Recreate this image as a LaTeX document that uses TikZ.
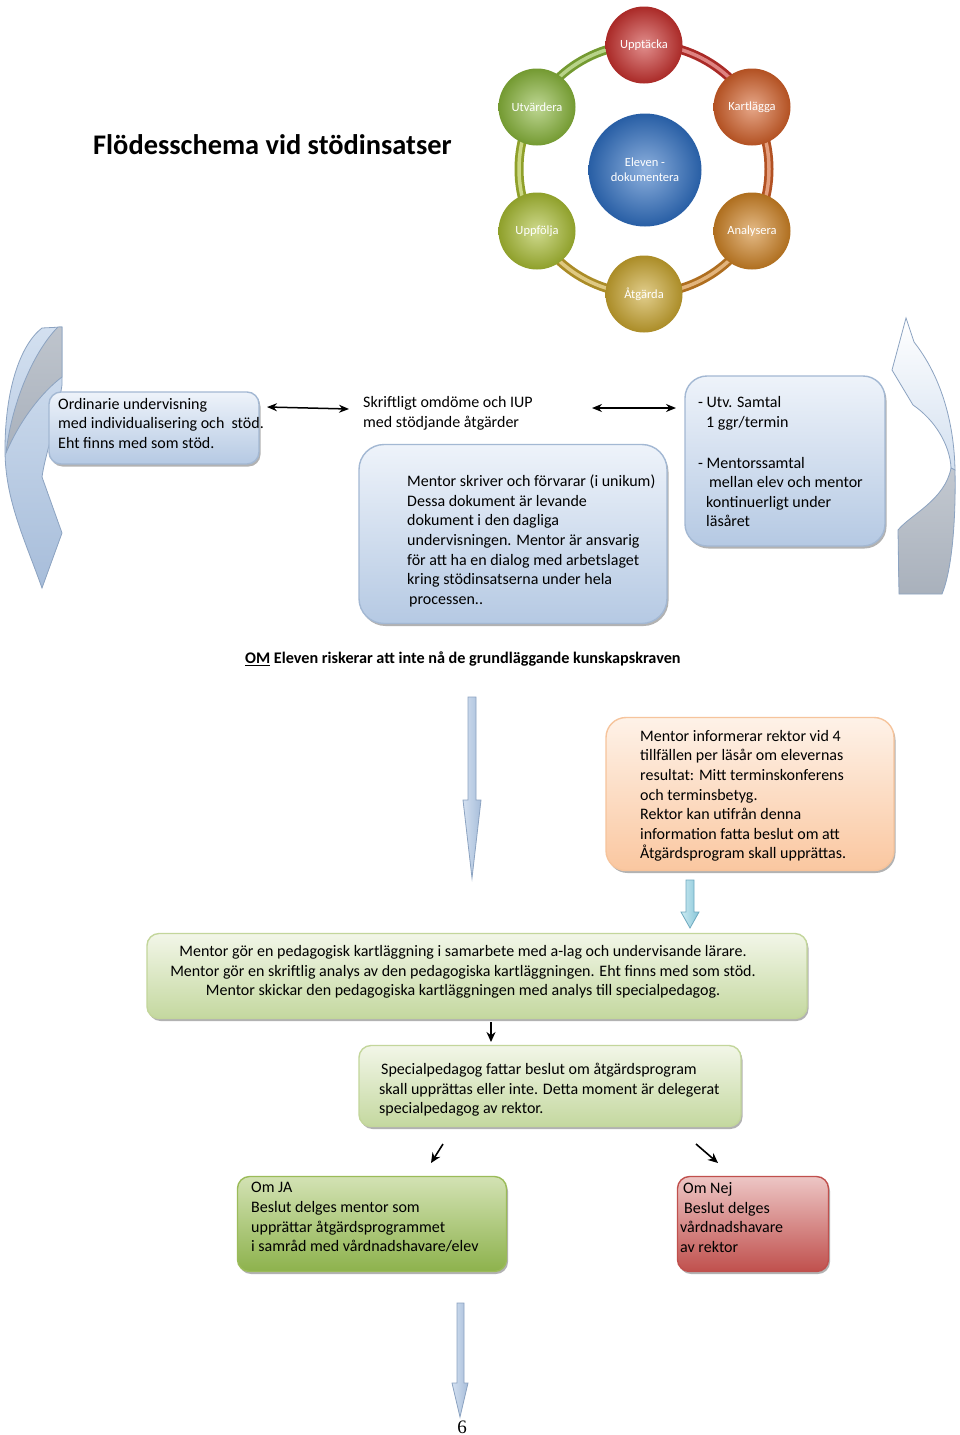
\documentclass[tikz,border=0pt]{standalone}
\usepackage{fontspec}
\setmainfont{Carlito}
\newfontfamily\pagenumfont{Liberation Serif}
\usetikzlibrary{shadows,arrows.meta}
\definecolor{btop}{HTML}{EEF3FA}
\definecolor{bbot}{HTML}{B5C9E3}
\definecolor{bbord}{HTML}{A3B8D3}
\definecolor{ptop}{HTML}{FEF2E8}
\definecolor{pbot}{HTML}{FAC7A0}
\definecolor{pbord}{HTML}{F6C49C}
\definecolor{gtop}{HTML}{F2F6E8}
\definecolor{gbot}{HTML}{C4D89F}
\definecolor{gbord}{HTML}{C3D69B}
\definecolor{dgtop}{HTML}{D3E2B4}
\definecolor{dgbot}{HTML}{8DB24C}
\definecolor{dgbord}{HTML}{9BBB59}
\definecolor{rtop}{HTML}{EDC6C5}
\definecolor{rbot}{HTML}{C0504D}
\definecolor{rbord}{HTML}{C0504D}
\definecolor{arrlight}{HTML}{D3E0F0}
\definecolor{arrdark}{HTML}{A7BDDA}
\definecolor{arrbord}{HTML}{8CA3C1}
\definecolor{arrgray}{HTML}{A9B1BC}
\definecolor{cyanl}{HTML}{CDEBF2}
\definecolor{cyand}{HTML}{86C5D8}
\definecolor{cyanb}{HTML}{6FA9BF}
\definecolor{cRed}{HTML}{C8312E}
\definecolor{cOrR}{HTML}{D25F28}
\definecolor{cOr}{HTML}{CE8224}
\definecolor{cGold}{HTML}{C9A52E}
\definecolor{cYG}{HTML}{A8BC32}
\definecolor{cGr}{HTML}{88B53A}
\definecolor{cBlue}{HTML}{2F6FC2}
\tikzset{
  txt/.style={font=\fontsize{16}{19.6}\selectfont, inner sep=0pt, align=left, anchor=west},
  shbox/.style={inner sep=0pt, line width=1.4pt,
    drop shadow={shadow xshift=1.5pt, shadow yshift=-2.5pt, fill=black, opacity=0.3}},
  bluebox/.style={shbox, draw=bbord, top color=btop, bottom color=bbot},
  peachbox/.style={shbox, draw=pbord, top color=ptop, bottom color=pbot},
  lgreenbox/.style={shbox, draw=gbord, top color=gtop, bottom color=gbot},
  dgreenbox/.style={shbox, draw=dgbord, top color=dgtop, bottom color=dgbot},
  redbox/.style={shbox, draw=rbord, top color=rtop, bottom color=rbot},
  ball/.style={circle, draw=none, inner sep=0pt, minimum size=77pt, shading=radial,
    inner color=#1!55!white, outer color=#1!85!black,
    font=\fontsize{12.5}{15}\selectfont, text=white, align=center},
  ringseg/.style={line width=9pt, draw=#1!85!black},
  ringhi/.style={line width=3.5pt, draw=#1!60!white},
  blk/.style={-{Stealth[length=10pt,width=9pt]}, line width=1.6pt},
  dblk/.style={{Stealth[length=10pt,width=8pt]}-{Stealth[length=10pt,width=8pt]}, line width=1.5pt},
  slimarrow/.style={draw=arrbord, line width=0.8pt, left color=arrlight, right color=arrdark},
}
\begin{document}
\begin{tikzpicture}[x=1pt,y=-1pt]
\useasboundingbox (0,0) rectangle (960,1435);
\fill[white] (0,0) rectangle (960,1435);

% ---------- title ----------
\node[font=\fontsize{28.4}{33}\selectfont\bfseries, inner sep=0pt, anchor=west] (title) at (93,145) {Flödesschema vid stödinsatser};

% ---------- cycle ----------
\foreach \a/\b/\c in {-90/-30/cRed, -30/30/cOrR, 30/90/cOr, 90/150/cGold, 150/210/cYG, 210/270/cGr}{
  \draw[ringseg=\c] plot[domain=\a:\b, samples=25, variable=\t] ({644+125*cos(\t)}, {169+125*sin(\t)});
  \draw[ringhi=\c] plot[domain=\a:\b, samples=25, variable=\t] ({644+125*cos(\t)}, {169+125*sin(\t)});
}
\node[ball=cBlue, minimum size=113pt] (c0) at (645,170) {Eleven -\\dokumentera};
\node[ball=cRed] (c1) at (644,45) {Upptäcka};
\node[ball=cOrR] (c2) at (752,107) {Kartlägga};
\node[ball=cOr] (c3) at (752,231) {Analysera};
\node[ball=cGold] (c4) at (644,294) {Åtgärda};
\node[ball=cYG] (c5) at (537,231) {Uppfölja};
\node[ball=cGr] (c6) at (537,107) {Utvärdera};

% ---------- curved arrows ----------
\path[draw=arrbord, line width=0.8pt, top color=arrlight, bottom color=arrdark]
  (42,328) -- (62,327) -- (62,385) .. controls (55,430) and (45,455) .. (42,477) -- (62,533) -- (42,588)
  .. controls (25,540) and (5,500) .. (5,450) .. controls (5,390) and (20,345) .. (42,328) -- cycle;
\path[draw=arrbord, line width=0.8pt, top color=arrgray!75!white, bottom color=arrgray]
  (58,327) .. controls (35,350) and (12,400) .. (6,453)
  .. controls (20,420) and (42,392) .. (62,377) -- (62,327) -- cycle;

\path[draw=arrbord, line width=0.8pt, top color=white, bottom color=arrlight]
  (906,318) -- (892,370) -- (913,405) .. controls (935,420) and (950,445) .. (951,468)
  -- (955,470) .. controls (954,420) and (940,375) .. (914,342) -- cycle;
\path[draw=arrbord, line width=0.8pt, top color=arrgray!70!white, bottom color=arrgray]
  (951,468) .. controls (945,500) and (910,515) .. (898,530) -- (899,594) -- (942,594)
  .. controls (952,570) and (956,520) .. (955,470) -- cycle;

% ---------- top row ----------
\node[bluebox, rounded corners=12pt, minimum width=210pt, minimum height=72pt] (b1) at (154,428) {};
\node[txt] (t1) at (58,423.5) {Ordinarie undervisning\\med individualisering och\ \ stöd.\\Eht finns med som stöd.};

\node[txt] (t2) at (363,413.5) {Skriftligt omdöme och IUP\\med stödjande åtgärder};

\node[bluebox, rounded corners=25pt, minimum width=308pt, minimum height=179pt] (b2) at (513,534) {};
\node[txt] (t3) at (407,541) {Mentor skriver och förvarar (i unikum)\\Dessa dokument är levande\\dokument i den dagliga\\undervisningen. Mentor är ansvarig\\för att ha en dialog med arbetslaget\\kring stödinsatserna under hela\\\hspace*{2pt}processen..};

\node[bluebox, rounded corners=22pt, minimum width=200pt, minimum height=170pt] (b3) at (785,461) {};
\node[txt] (t4a) at (698,413.5) {- Utv. Samtal\\\hspace*{8pt}1 ggr/termin};
\node[txt] (t4b) at (698,492) {- Mentorssamtal\\\hspace*{11pt}mellan elev och mentor\\\hspace*{8pt}kontinuerligt under\\\hspace*{8pt}läsåret};

\coordinate (d1a) at (267,407);
\coordinate (d1b) at (349,409);
\coordinate (d2a) at (592,408);
\coordinate (d2b) at (676,408);
\draw[dblk] (d1a) -- (d1b);
\draw[dblk] (d2a) -- (d2b);

% ---------- OM line ----------
\node[txt, font=\fontsize{16.2}{19.6}\selectfont\bfseries] (om) at (245,659) {\underline{OM} Eleven riskerar att inte nå de grundläggande kunskapskraven};

% ---------- middle ----------
\path[slimarrow] (468,697) -- (476,697) -- (476,800) -- (481,800) -- (472,878) -- (463,800) -- (468,800) -- cycle;

\node[peachbox, rounded corners=20pt, minimum width=288pt, minimum height=153pt] (b4) at (750,794) {};
\node[txt] (t5) at (640,796) {Mentor informerar rektor vid 4\\tillfällen per läsår om elevernas\\resultat: Mitt terminskonferens\\och terminsbetyg.\\Rektor kan utifrån denna\\information fatta beslut om att\\Åtgärdsprogram skall upprättas.};

\path[draw=cyanb, line width=0.8pt, left color=cyanl, right color=cyand]
  (686,880) -- (694,880) -- (694,912) -- (699,912) -- (690,928) -- (681,912) -- (686,912) -- cycle;

\node[lgreenbox, rounded corners=12pt, minimum width=660pt, minimum height=85pt] (b5) at (477,976) {};
\node[txt, align=center, anchor=center] (t6) at (463,972) {Mentor gör en pedagogisk kartläggning i samarbete med a-lag och undervisande lärare.\\Mentor gör en skriftlig analys av den pedagogiska kartläggningen. Eht finns med som stöd.\\Mentor skickar den pedagogiska kartläggningen med analys till specialpedagog.};

\coordinate (s1a) at (491,1022);
\coordinate (s1b) at (491,1042);
\draw[blk] (s1a) -- (s1b);

\node[lgreenbox, rounded corners=12pt, minimum width=382pt, minimum height=81pt] (b6) at (550,1086) {};
\node[txt] (t7) at (379,1090) {\hspace*{2pt}Specialpedagog fattar beslut om åtgärdsprogram\\skall upprättas eller inte. Detta moment är delegerat\\specialpedagog av rektor.};

\coordinate (s2a) at (443,1144);
\coordinate (s2b) at (431,1163);
\coordinate (s3a) at (696,1144);
\coordinate (s3b) at (718,1163);
\draw[blk] (s2a) -- (s2b);
\draw[blk] (s3a) -- (s3b);

% ---------- bottom ----------
\node[dgreenbox, rounded corners=12pt, minimum width=269pt, minimum height=95pt] (b7) at (372,1224) {};
\node[txt] (t8) at (251,1217.5) {Om JA\\Beslut delges mentor som\\upprättar åtgärdsprogrammet\\i samråd med vårdnadshavare/elev};

\node[redbox, rounded corners=12pt, minimum width=151pt, minimum height=95pt] (b8) at (753,1224) {};
\node[txt] (t9) at (680,1217.5) {\hspace*{3pt}Om Nej\\\hspace*{4pt}Beslut delges\\vårdnadshavare\\av rektor};

\path[slimarrow] (457,1303) -- (464,1303) -- (464,1383) -- (468,1383) -- (460,1417) -- (452,1383) -- (457,1383) -- cycle;

\node[font=\pagenumfont\fontsize{19}{22}\selectfont, inner sep=0pt] (pg) at (462,1427) {6};
\end{tikzpicture}
\end{document}
